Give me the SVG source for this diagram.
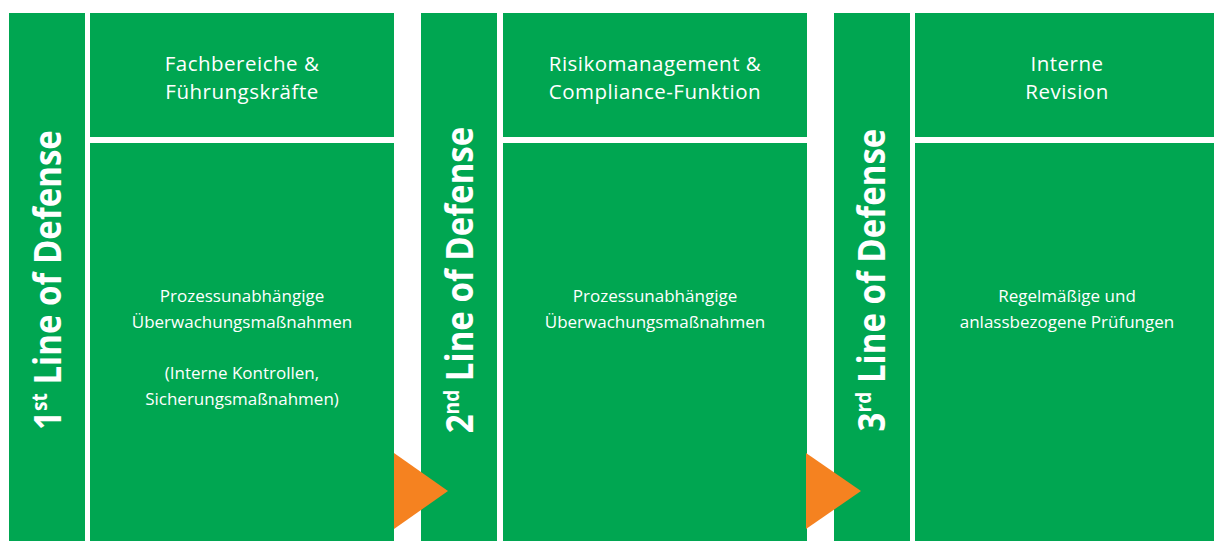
<svg xmlns="http://www.w3.org/2000/svg" width="1214" height="541" viewBox="0 0 1214 541">
  <style>
    .g{fill:#00A651}
    .arrow{fill:#F58220}
    .side{font-family:"Open Sans","Liberation Sans",sans-serif;font-weight:bold;font-size:38px;fill:#fff;text-anchor:middle}
    .sup{font-size:22px}
    .head{font-family:"Open Sans","Liberation Sans",sans-serif;font-size:20.5px;letter-spacing:0.5px;fill:#fff;text-anchor:middle}
    .body{font-family:"Open Sans","Liberation Sans",sans-serif;font-size:17px;fill:#fff;text-anchor:middle}
  </style>
  <rect width="1214" height="541" fill="#fff"/>

  <g id="line1">
    <rect class="g" x="9" y="13" width="76" height="528"/>
    <text class="side" transform="translate(61,280) rotate(-90) scale(0.87,1)">1<tspan class="sup" dy="-14">st</tspan><tspan dy="14"> Line of Defense</tspan></text>
  </g>
  <g id="fachbereiche">
    <rect class="g" x="90" y="13" width="304" height="124"/>
    <text class="head" x="242" y="71">Fachbereiche &amp;</text>
    <text class="head" x="242" y="99">Führungskräfte</text>
  </g>
  <g id="massnahmen1">
    <rect class="g" x="90" y="143" width="304" height="398"/>
    <text class="body" x="242" y="302">Prozessunabhängige</text>
    <text class="body" x="242" y="328">Überwachungsmaßnahmen</text>
    <text class="body" x="242" y="379">(Interne Kontrollen,</text>
    <text class="body" x="242" y="405">Sicherungsmaßnahmen)</text>
  </g>

  <g id="line2">
    <rect class="g" x="421" y="13" width="76" height="528"/>
    <text class="side" transform="translate(473,280) rotate(-90) scale(0.87,1)">2<tspan class="sup" dy="-14">nd</tspan><tspan dy="14"> Line of Defense</tspan></text>
  </g>
  <g id="risikomanagement">
    <rect class="g" x="503" y="13" width="304" height="124"/>
    <text class="head" x="655" y="71">Risikomanagement &amp;</text>
    <text class="head" x="655" y="99">Compliance-Funktion</text>
  </g>
  <g id="massnahmen2">
    <rect class="g" x="503" y="143" width="304" height="398"/>
    <text class="body" x="655" y="302">Prozessunabhängige</text>
    <text class="body" x="655" y="328">Überwachungsmaßnahmen</text>
  </g>

  <g id="line3">
    <rect class="g" x="834" y="13" width="76" height="528"/>
    <text class="side" transform="translate(885,280) rotate(-90) scale(0.87,1)">3<tspan class="sup" dy="-14">rd</tspan><tspan dy="14"> Line of Defense</tspan></text>
  </g>
  <g id="revision">
    <rect class="g" x="915" y="13" width="304" height="124"/>
    <text class="head" x="1067" y="71">Interne</text>
    <text class="head" x="1067" y="99">Revision</text>
  </g>
  <g id="pruefungen">
    <rect class="g" x="915" y="143" width="304" height="398"/>
    <text class="body" x="1067" y="302">Regelmäßige und</text>
    <text class="body" x="1067" y="328">anlassbezogene Prüfungen</text>
  </g>

  <g id="connectors">
    <polygon class="arrow" points="394,453 448,491 394,529"/>
    <polygon class="arrow" points="806,453 861,491 806,529"/>
  </g>
</svg>
